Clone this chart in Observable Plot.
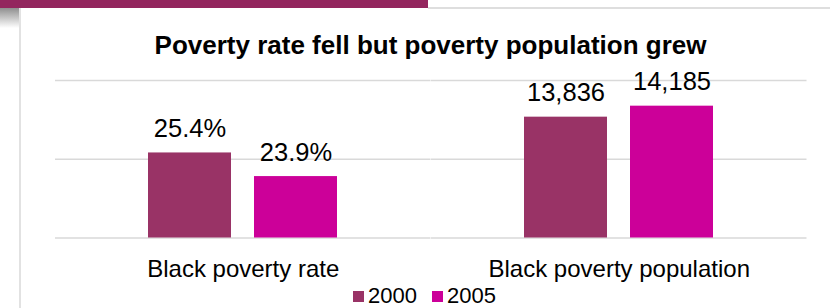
<!DOCTYPE html>
<html>
<head>
<meta charset="utf-8">
<script src="https://cdn.jsdelivr.net/npm/d3@7"></script>
<script src="https://cdn.jsdelivr.net/npm/@observablehq/plot@0.6"></script>
<style>
  html, body { margin: 0; padding: 0; background: #fff; }
  body { font-family: "Liberation Sans", Arial, sans-serif; }
  #page { position: relative; width: 830px; height: 308px; overflow: hidden; background: #fff; }
  #topbar { position: absolute; left: 0; top: 0; width: 428px; height: 8px; background: #93265e; }
  #topline { position: absolute; left: 428px; top: 7px; right: 0; height: 2px; background: #dedede; }
  #shadow { position: absolute; left: 0; top: 8px; width: 19px; height: 20px; background: linear-gradient(#8f8f8f, #ffffff); }
  #leftline { position: absolute; left: 19px; top: 8px; width: 2px; bottom: 0; background: #e2e2e2; }
  #title { position: absolute; left: 0; width: 861px; top: 32px; text-align: center; font-weight: bold; font-size: 26px; line-height: 1; color: #000; }
  .panel { position: absolute; top: 60px; }
  .panel svg { overflow: visible; }
  #legend { position: absolute; top: 285px; left: 0; width: 849px; display: flex; justify-content: center; gap: 15px; font-size: 22px; line-height: 1; color: #000; }
  .item { display: flex; align-items: center; gap: 4px; }
  .sw { width: 11px; height: 11px; display: inline-block; }
</style>
</head>
<body>
<div id="page">
  <div id="topbar"></div>
  <div id="topline"></div>
  <div id="shadow"></div>
  <div id="leftline"></div>
  <div id="title"></div>
  <div id="left" class="panel" style="left:55px"></div>
  <div id="right" class="panel" style="left:430.5px"></div>
  <div id="legend"></div>
</div>
<script>
const chartTitle = "Poverty rate fell but poverty population grew";
const categories = ["Black poverty rate", "Black poverty population"];
const years = ["2000", "2005"];
const yearColors = ["#993366", "#cc0099"];
const rateValues = [25.4, 23.9];
const populationValues = [13836, 14185];
const rateTicks = [20, 25, 30];
const populationTicks = [10000, 12500, 15000];

const fmtRate = d => d3.format(".1f")(d) + "%";
const fmtPop = d3.format(",");

document.getElementById("title").textContent = chartTitle;

function panel(category, values, ticks, fmt, width) {
  const data = years.map((year, i) => ({year, value: values[i]}));
  return Plot.plot({
    width,
    height: 230,
    marginTop: 20,
    marginBottom: 52.5,
    marginLeft: 0,
    marginRight: 0,
    x: {domain: years, paddingInner: 0.2127, paddingOuter: 0.866, axis: null},
    y: {domain: [ticks[0], ticks[ticks.length - 1]], axis: null},
    color: {domain: years, range: yearColors},
    style: {fontFamily: "'Liberation Sans', Arial, sans-serif", background: "transparent", color: "#000"},
    marks: [
      Plot.gridY(ticks, {stroke: "#d9d9d9", strokeOpacity: 1, strokeWidth: 1.5}),
      Plot.barY(data, {x: "year", y1: () => ticks[0], y2: "value", fill: "year"}),
      Plot.text(data, {x: "year", y: "value", text: d => fmt(d.value), lineAnchor: "bottom", dy: -16, fontSize: 25.5, fill: "#000"}),
      Plot.text([category], {frameAnchor: "bottom", text: d => d, lineAnchor: "bottom", dy: 39, fontSize: 24, fill: "#000"})
    ]
  });
}

document.getElementById("left").appendChild(panel(categories[0], rateValues, rateTicks, fmtRate, 375.5));
document.getElementById("right").appendChild(panel(categories[1], populationValues, populationTicks, fmtPop, 375.5));

const legend = document.getElementById("legend");
years.forEach((y, i) => {
  const item = document.createElement("div");
  item.className = "item";
  const sw = document.createElement("span");
  sw.className = "sw";
  sw.style.background = yearColors[i];
  const t = document.createElement("span");
  t.textContent = y;
  item.appendChild(sw);
  item.appendChild(t);
  legend.appendChild(item);
});
</script>
</body>
</html>
